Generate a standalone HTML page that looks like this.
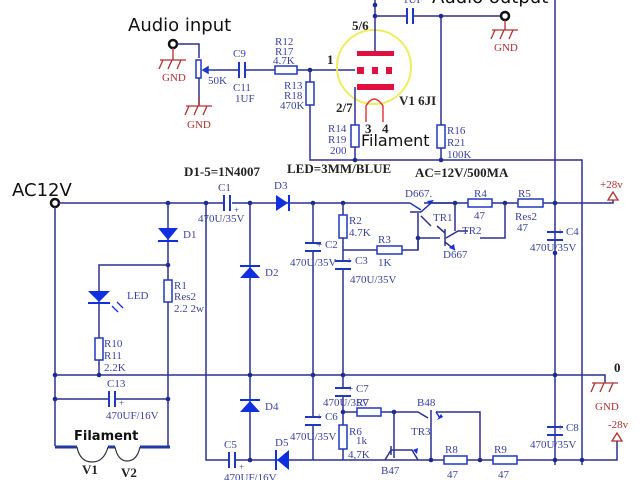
<!DOCTYPE html>
<html><head><meta charset="utf-8"><style>
html,body{margin:0;padding:0;background:#fff;width:640px;height:480px;overflow:hidden}
svg{display:block}
.w{stroke:#2b3090;stroke-width:1.5;fill:none}
.r{stroke:#2038c0;stroke-width:1.5;fill:#fff}
.c{stroke:#2038c0;stroke-width:2;fill:none}
.d{fill:#1a2a90}
.t{font-family:"Liberation Serif",serif;font-size:11px;fill:#3a44a0}
.b{font-family:"Liberation Serif",serif;font-size:13px;font-weight:bold;fill:#222}
.big{font-family:"DejaVu Sans","Liberation Sans",sans-serif;font-size:18px;fill:#111}
.g{stroke:#b03030;stroke-width:1.3;fill:none}
.gt{font-family:"Liberation Serif",serif;font-size:11px;fill:#b03030}
.di{fill:#1030e0}
</style></head><body>
<svg width="640" height="480" viewBox="0 0 640 480" xmlns="http://www.w3.org/2000/svg">
<!-- ========== TOP: audio stage ========== -->
<text class="big" x="128" y="31">Audio input</text>
<circle cx="173" cy="44" r="4" fill="#fff" stroke="#111" stroke-width="2.5"/>
<path class="w" d="M177 44 H199 V58"/>
<path class="g" d="M173 48 V60 M160 60 H186 M163 60 l-4 9 M172 60 l-4 9 M181 60 l-4 9"/>
<text class="gt" x="162" y="81">GND</text>
<rect class="r" x="196" y="60" width="5" height="18"/>
<path class="w" d="M199 78 V105"/>
<path d="M213 70 H203 M203 70 l5 -3 v6z" stroke="#2038c0" stroke-width="1.5" fill="#2038c0"/>
<path class="g" d="M199 98 V106 M186 106 H212 M189 106 l-4 9 M198 106 l-4 9 M207 106 l-4 9"/>
<text class="gt" x="187" y="128">GND</text>
<text class="t" x="208" y="84">50K</text>
<path class="w" d="M213 70 H239 M245 70 H275 M297 70 H355"/>
<path class="c" d="M239 62 V78 M245 62 V78"/>
<text class="t" x="233" y="57">C9</text>
<text class="t" x="233" y="91">C11</text>
<text class="t" x="235" y="102">1UF</text>
<rect class="r" x="275" y="66" width="22" height="8"/>
<text class="t" x="275" y="45">R12</text><text class="t" x="275" y="55">R17</text><text class="t" x="273" y="64">4.7K</text>
<circle class="d" cx="310" cy="70" r="2.3"/>
<rect class="r" x="306" y="82" width="8" height="23"/>
<path class="w" d="M310 70 V82 M310 105 V160 H582 V465"/>
<text class="t" x="284" y="89">R13</text><text class="t" x="284" y="99">R18</text><text class="t" x="280" y="109">470K</text>
<text class="b" x="327" y="64">1</text>
<!-- tube -->
<circle cx="374" cy="67" r="37" fill="none" stroke="#f0ec60" stroke-width="2"/>
<rect x="357" y="51" width="37" height="5" fill="#e01040"/>
<rect x="357" y="67" width="7" height="7" fill="#e01040"/>
<rect x="372" y="67" width="6" height="7" fill="#e01040"/>
<rect x="386" y="67" width="6" height="7" fill="#e01040"/>
<rect x="357" y="84" width="37" height="6" fill="#e01040"/>
<path class="w" d="M375 0 V51"/>
<path class="w" d="M355 87 V125"/>
<path d="M366 122 V106 Q374 92 383 106 V122" stroke="#e03030" stroke-width="1.4" fill="none"/>
<text class="b" x="352" y="30">5/6</text>
<text class="b" x="336" y="112">2/7</text>
<text class="b" x="399" y="105">V1 6JI</text>
<text class="b" x="365" y="133">3</text><text class="b" x="382" y="133">4</text>
<text class="big" style="font-size:16px" x="361" y="146">Filament</text>
<rect class="r" x="351" y="125" width="8" height="22"/>
<path class="w" d="M355 147 V160"/>
<text class="t" x="328" y="132">R14</text><text class="t" x="328" y="143">R19</text><text class="t" x="330" y="154">200</text>
<circle class="d" cx="355" cy="160" r="2.3"/>
<circle class="d" cx="441" cy="160" r="2.3"/>
<rect class="r" x="437" y="125" width="8" height="23"/>
<path class="w" d="M441 16 V125 M441 148 V160"/>
<text class="t" x="447" y="134">R16</text><text class="t" x="447" y="146">R21</text><text class="t" x="447" y="158">100K</text>
<!-- output -->
<circle class="d" cx="375" cy="5" r="2.3"/>
<circle class="d" cx="375" cy="16" r="2.3"/>
<path class="w" d="M375 16 H407 M413 16 H500"/>
<path class="c" d="M407 8 V24 M413 8 V24"/>
<circle class="d" cx="441" cy="16" r="2.3"/>
<text class="t" x="403" y="3">1UF</text>
<text class="big" x="432" y="3">Audio output</text>
<circle cx="505" cy="16" r="4" fill="#fff" stroke="#111" stroke-width="2.5"/>
<path class="g" d="M505 20 V30 M492 30 H518 M495 30 l-4 9 M504 30 l-4 9 M513 30 l-4 9"/>
<text class="gt" x="494" y="51">GND</text>
<path class="w" d="M555 0 V465"/>
<!-- ========== POWER SUPPLY ========== -->
<text class="big" x="12" y="196">AC12V</text>
<text class="b" x="184" y="176">D1-5=1N4007</text>
<text class="b" x="287" y="173">LED=3MM/BLUE</text>
<text class="b" x="415" y="177">AC=12V/500MA</text>
<circle cx="55" cy="203" r="4" fill="#fff" stroke="#111" stroke-width="2.5"/>
<path class="w" d="M59 203 H224 M232 203 H410 M424 203 H613 V198"/>
<path d="M608 200 L613 192 L618 200Z" fill="#fff" stroke="#b03030" stroke-width="1.3"/>
<text class="gt" x="600" y="188">+28v</text>
<path class="c" d="M224 195 V211 M230 195 V211"/>
<text class="t" x="234" y="213" style="font-size:9px">+</text>
<text class="t" x="218" y="191">C1</text>
<text class="t" x="198" y="222">470U/35V</text>
<path class="di" d="M276 195 L276 211 L288 203Z"/><path d="M289 195 V211" stroke="#1030e0" stroke-width="2"/>
<text class="t" x="274" y="189">D3</text>
<circle class="d" cx="168" cy="203" r="2.3"/><circle class="d" cx="206" cy="203" r="2.3"/>
<circle class="d" cx="250" cy="203" r="2.3"/><circle class="d" cx="313" cy="203" r="2.3"/>
<circle class="d" cx="343" cy="203" r="2.3"/><circle class="d" cx="455" cy="203" r="2.3"/>
<circle class="d" cx="505" cy="203" r="2.3"/><circle class="d" cx="555" cy="203" r="2.3"/>
<!-- left -->
<path class="w" d="M55 207 V446 M168 203 V446 M206 203 V460 H229 M235 460 H555 M250 203 V460"/>
<path class="di" d="M158 228 H178 L168 240Z"/><path d="M158 241 H178" stroke="#1030e0" stroke-width="2"/>
<text class="t" x="183" y="238">D1</text>
<circle class="d" cx="168" cy="265" r="2.3"/>
<path class="w" d="M168 265 H99 V375"/>
<path class="di" d="M88 291 H110 L99 302Z"/><path d="M88 303 H110" stroke="#1030e0" stroke-width="2"/>
<path d="M112 306 l6 6 M117 302 l6 6" stroke="#1030e0" stroke-width="1.3"/>
<text class="t" x="127" y="299">LED</text>
<rect class="r" x="95" y="338" width="8" height="22"/>
<text class="t" x="104" y="347">R10</text><text class="t" x="104" y="359">R11</text><text class="t" x="104" y="371">2.2K</text>
<rect class="r" x="164" y="280" width="8" height="22"/>
<text class="t" x="174" y="289">R1</text><text class="t" x="174" y="300">Res2</text><text class="t" x="174" y="312">2.2  2w</text>
<path class="w" d="M55 375 H605 V383"/>
<circle class="d" cx="55" cy="375" r="2.3"/><circle class="d" cx="99" cy="375" r="2.3"/>
<circle class="d" cx="250" cy="375" r="2.3"/><circle class="d" cx="313" cy="375" r="2.3"/>
<circle class="d" cx="343" cy="375" r="2.3"/><circle class="d" cx="555" cy="375" r="2.3"/>
<text class="b" x="614" y="372">0</text>
<path class="g" d="M592 383 H618 M595 383 l-4 9 M604 383 l-4 9 M613 383 l-4 9"/>
<text class="gt" x="595" y="410">GND</text>
<path class="w" d="M55 399 H109 M115 399 H168"/>
<circle class="d" cx="55" cy="399" r="2.3"/><circle class="d" cx="168" cy="399" r="2.3"/>
<path class="c" d="M109 391 V407 M115 391 V407"/>
<text class="t" x="119" y="406" style="font-size:9px">+</text>
<text class="t" x="107" y="387">C13</text>
<text class="t" x="106" y="419">470UF/16V</text>
<text class="big" style="font-size:13px;font-weight:bold" x="74" y="440">Filament</text>
<path d="M55 447 H77 M108 447 H115 M140 447 H170" stroke="#2038a0" stroke-width="3"/>
<path d="M77 447 Q80 462 92 462 Q104 462 108 447 M115 447 Q118 461 127 461 Q137 461 140 447" stroke="#333" stroke-width="1.2" fill="none"/>
<text class="b" x="82" y="474">V1</text><text class="b" x="121" y="477">V2</text>
<!-- bridge -->
<path class="di" d="M240 278 H260 L250 267Z"/><path d="M240 266 H260" stroke="#1030e0" stroke-width="2"/>
<text class="t" x="265" y="276">D2</text>
<path class="di" d="M240 412 H260 L250 401Z"/><path d="M240 400 H260" stroke="#1030e0" stroke-width="2"/>
<text class="t" x="265" y="410">D4</text>
<path class="c" d="M229 452 V468 M235 452 V468"/>
<text class="t" x="239" y="470" style="font-size:9px">+</text>
<text class="t" x="224" y="448">C5</text>
<text class="t" x="224" y="481">470UF/16V</text>
<circle class="d" cx="250" cy="460" r="2.3"/>
<path class="di" d="M289 450 L289 470 L277 460Z"/><path d="M276 450 V470" stroke="#1030e0" stroke-width="2"/>
<text class="t" x="275" y="446">D5</text>
<!-- positive reg -->
<path class="w" d="M313 203 V243 M313 251 V375 M343 203 V215 M343 238 V250 H377 M402 250 H418 V213 M343 250 V261 M343 269 V375"/>
<path class="c" d="M305 243 H321 M305 251 H321 M335 261 H351 M335 269 H351"/>
<text class="t" x="316" y="248">+ C2</text>
<text class="t" x="290" y="266">470U/35V</text>
<text class="t" x="346" y="264">+ C3</text>
<text class="t" x="350" y="283">470U/35V</text>
<rect class="r" x="339" y="215" width="8" height="23"/>
<text class="t" x="349" y="224">R2</text><text class="t" x="349" y="236">4.7K</text>
<rect class="r" x="377" y="246" width="25" height="8"/>
<text class="t" x="378" y="243">R3</text><text class="t" x="378" y="266">1K</text>
<path class="w" d="M410 212 H421 M421 212 L431 203 H455 M421 216 L431 226"/>
<path d="M410 203 L421 210" stroke="#2038c0" stroke-width="1.5"/>
<path d="M430 205 l4 -5 l-7 1z" fill="#1030e0"/>
<text class="t" x="405" y="197">D667.</text><text class="t" x="433" y="221">TR1</text>
<circle class="d" cx="418" cy="238" r="2.3"/>
<path class="w" d="M418 238 H440 M445 229 V246 M445 233 L437 226 M445 242 L455 250 M418 238 V250"/>
<path class="w" d="M446 238 L458 231 H468"/>
<path class="w" d="M455 203 V231"/>
<path class="w" d="M480 238 H505 V203"/>
<path d="M455 250 l-1 -6 l-5 4z" fill="#1030e0"/>
<text class="t" x="462" y="234">TR2</text><text class="t" x="443" y="258">D667</text>
<rect class="r" x="468" y="199" width="24" height="8"/>
<text class="t" x="474" y="197">R4</text><text class="t" x="474" y="219">47</text>
<rect class="r" x="518" y="199" width="25" height="8"/>
<text class="t" x="518" y="197">R5</text><text class="t" x="515" y="220">Res2</text><text class="t" x="517" y="231">47</text>
<path class="c" d="M547 232 H563 M547 240 H563"/>
<text class="t" x="557" y="235">+ C4</text>
<text class="t" x="530" y="251">470U/35V</text>
<circle class="d" cx="555" cy="253" r="2.3"/>
<!-- negative reg -->
<path class="w" d="M343 375 V388 M343 396 V460 M313 375 V417 M313 425 V460"/>
<path class="c" d="M335 388 H351 M335 396 H351 M305 417 H321 M305 425 H321"/>
<text class="t" x="347" y="392">+ C7</text>
<text class="t" x="323" y="406">470U/35V</text>
<text class="t" x="316" y="420">+ C6</text>
<text class="t" x="290" y="440">470U/35V</text>
<circle class="d" cx="343" cy="412" r="2.3"/>
<path class="w" d="M343 412 H357 M381 412 H418 L428 418 M431 410 V426 M431 421 V460 M436 412 H480 V460"/>
<rect class="r" x="357" y="408" width="24" height="8"/>
<text class="t" x="356" y="406">R7</text>
<rect class="r" x="339" y="425" width="8" height="24"/>
<text class="t" x="349" y="435">R6</text><text class="t" x="356" y="444">1k</text><text class="t" x="348" y="458">4,7K</text>
<circle class="d" cx="394" cy="412" r="2.3"/>
<path class="w" d="M394 412 V458 M385 460 L391 450 H412 L418 460 M391 446 V455"/>
<path d="M413 450 l4 4 l1 -6z" fill="#1030e0"/>
<text class="t" x="381" y="474">B47</text>
<path d="M436 412 L440 418" stroke="#1030e0" stroke-width="1.5"/>
<path d="M437 420 l6 -3 l-2 -3z" fill="#1030e0"/>
<text class="t" x="417" y="406">B48</text><text class="t" x="411" y="435">TR3</text>
<circle class="d" cx="431" cy="460" r="2.3"/><circle class="d" cx="480" cy="460" r="2.3"/>
<rect class="r" x="444" y="456" width="23" height="8" />
<text class="t" x="445" y="453">R8</text><text class="t" x="447" y="478">47</text>
<rect class="r" x="493" y="456" width="24" height="8"/>
<text class="t" x="494" y="453">R9</text><text class="t" x="498" y="478">47</text>
<path class="c" d="M547 427 H563 M547 435 H563"/>
<text class="t" x="557" y="431">+ C8</text>
<text class="t" x="530" y="448">470U/35V</text>
<path class="w" d="M555 460 H617 V440"/>
<circle class="d" cx="555" cy="460" r="2.3"/><circle class="d" cx="582" cy="460" r="2.3"/>
<path d="M612 441 L617 433 L622 441Z" fill="#fff" stroke="#b03030" stroke-width="1.3"/>
<text class="gt" x="608" y="428">-28v</text>
</svg>
</body></html>
